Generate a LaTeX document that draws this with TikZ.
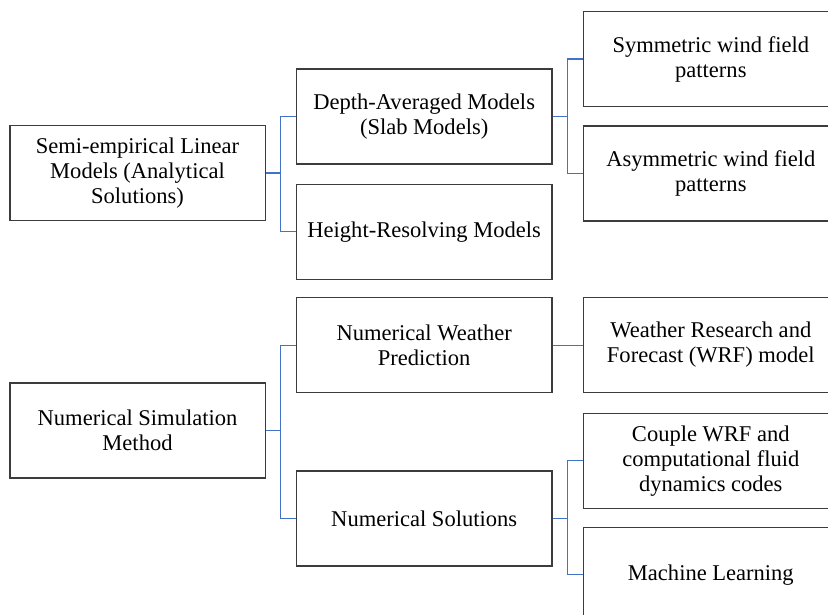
\documentclass[tikz,border=0pt]{standalone}
\usepackage{fontspec}
\setmainfont{Liberation Serif}
\usepackage{xcolor}
\usetikzlibrary{positioning}
\definecolor{linkblue}{RGB}{68,114,196}
\definecolor{boxgray}{RGB}{60,60,60}
\tikzset{
	%Define style for boxes
	box/.style={
		rectangle,
		draw=boxgray, line width=1pt,
		minimum width=191.5pt,
		minimum height=71.25pt,
		inner sep=0pt,
		align=center,
		font=\fontsize{16.9}{18.75}\selectfont},
	link/.style={draw=linkblue, line width=0.8pt}
}

\begin{document}
\begin{tikzpicture}[x=0.75pt,y=-0.75pt,node distance=22.5pt]
	\useasboundingbox (0,0) rectangle (828,614);
	\clip (0,0) rectangle (828,614);
	% analytical branch
	\node[box] (semi) at (137.5,173) {Semi-empirical Linear\\Models (Analytical\\Solutions)};
	\node[box, right=of semi, yshift=42.4pt] (depth) {Depth-Averaged Models\\(Slab Models)};
	\node[box, below=14.25pt of depth] (height) {Height-Resolving Models};
	\node[box, right=of depth, yshift=43.1pt] (sym) {Symmetric wind field\\patterns};
	\node[box, right=of depth, yshift=-42.75pt] (asym) {Asymmetric wind field\\patterns};
	% numerical branch
	\node[box] (nsm) at (137.5,430.5) {Numerical Simulation\\Method};
	\node[box, right=of nsm, yshift=64.1pt] (nwp) {Numerical Weather\\Prediction};
	\node[box, below=57.75pt of nwp] (nsol) {Numerical Solutions};
	\node[box, right=of nwp] (wrf) {Weather Research and\\Forecast (WRF) model};
	\node[box, right=of nsol, yshift=43.1pt] (couple) {Couple WRF and\\computational fluid\\dynamics codes};
	\node[box, right=of nsol, yshift=-42.4pt] (ml) {Machine Learning};
	% connectors
	\draw[link] (semi.east) -- ++(11.25pt,0) |- (depth.west);
	\draw[link] (semi.east) -- ++(11.25pt,0) |- (height.west);
	\draw[link] (depth.east) -- ++(11.25pt,0) |- (sym.west);
	\draw[link] (depth.east) -- ++(11.25pt,0) |- (asym.west);
	\draw[link] (nsm.east) -- ++(11.25pt,0) |- (nwp.west);
	\draw[link] (nsm.east) -- ++(11.25pt,0) |- (nsol.west);
	\draw[link] (nwp.east) -- (wrf.west);
	\draw[link] (nsol.east) -- ++(11.25pt,0) |- (couple.west);
	\draw[link] (nsol.east) -- ++(11.25pt,0) |- (ml.west);
\end{tikzpicture}
\end{document}
